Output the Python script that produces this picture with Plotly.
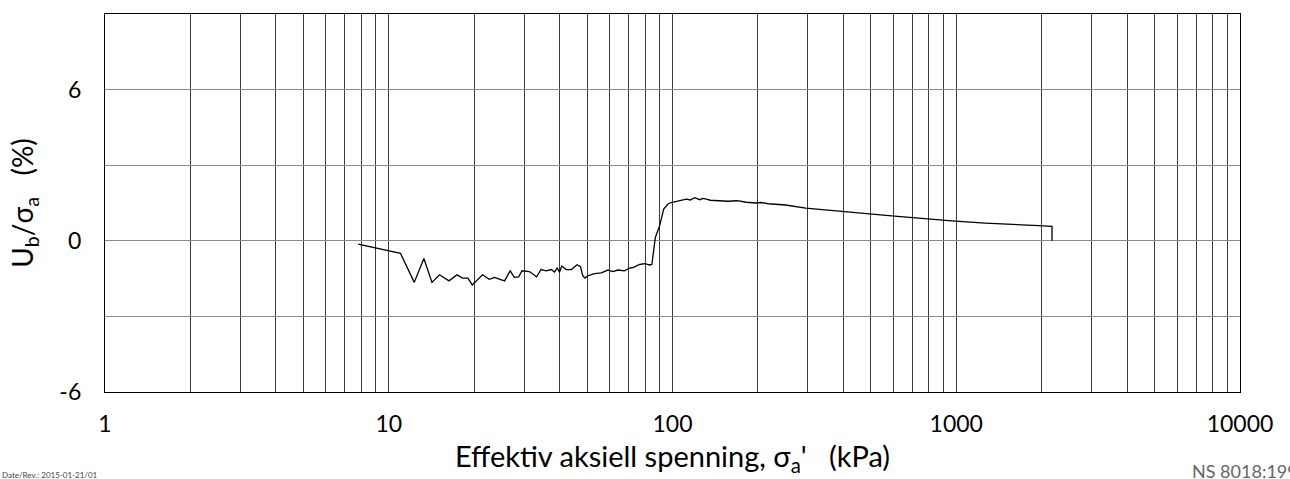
import plotly.graph_objects as go

# Effective axial stress (kPa) and pore-pressure ratio Ub/sigma_a (%)
sigma_a = [7.8, 11.0, 12.3, 13.3, 14.2, 15.1, 16.3, 17.4, 18.2, 19.0, 19.7,
           21.4, 22.6, 23.6, 24.5, 25.6, 26.8, 27.7, 28.7, 29.5, 31.3, 33.2,
           34.4, 35.9, 37.4, 38.4, 39.2, 40.0, 40.7, 42.2, 44.0, 46.1, 47.4,
           48.3, 49.2, 50.3, 53.1, 56.1, 59.2, 61.7, 64.2, 67.8, 70.6, 72.6,
           76.6, 79.8, 83.1, 84.6, 87.0, 90.1, 93.1, 96.4, 99.0, 104.5, 111.8,
           115.5, 119.8, 124.7, 128.0, 131.6, 136.0, 140.8, 148.0, 157.0,
           169.0, 182.0, 196.8, 205.0, 217.5, 250.0, 295.0, 394.0, 592.0,
           964.0, 1265.0, 1952.0, 2175.0, 2175.0]
ub_ratio = [-0.13, -0.50, -1.65, -0.70, -1.65, -1.35, -1.59, -1.35, -1.48,
            -1.48, -1.75, -1.35, -1.53, -1.45, -1.52, -1.59, -1.19, -1.45,
            -1.43, -1.19, -1.22, -1.43, -1.14, -1.19, -1.14, -1.24, -1.08,
            -1.24, -1.00, -1.14, -1.14, -0.95, -1.03, -1.39, -1.48, -1.39,
            -1.30, -1.27, -1.16, -1.22, -1.16, -1.19, -1.08, -1.06, -0.94,
            -0.91, -0.96, -0.94, 0.13, 0.60, 1.26, 1.46, 1.52, 1.59, 1.65,
            1.62, 1.71, 1.63, 1.68, 1.65, 1.61, 1.60, 1.58, 1.57, 1.59,
            1.53, 1.50, 1.52, 1.47, 1.42, 1.30, 1.16, 0.99, 0.79, 0.70,
            0.60, 0.57, 0.0]

# Log-axis gridlines at every 1..9 multiple; labels only on decades
x_mult = [m for d in range(4) for m in range(1, 10)] + [1]
x_tickvals = [m * 10 ** d for d in range(4) for m in range(1, 10)] + [10000]
x_ticktext = [str(v) if m == 1 else "" for v, m in zip(x_tickvals, x_mult)]
y_tickvals = [-6, -3, 0, 3, 6, 9]
y_ticktext = ["-6", "", "0", "", "6", ""]

FONT = "Lato"

fig = go.Figure()
fig.add_trace(go.Scatter(
    x=sigma_a, y=ub_ratio, mode="lines",
    line=dict(color="black", width=1.3),
    showlegend=False, hoverinfo="x+y",
))

fig.update_layout(
    width=1290, height=479,
    margin=dict(l=105, r=50, t=14, b=87),
    paper_bgcolor="white", plot_bgcolor="white",
    font=dict(family=FONT, size=22, color="black"),
    xaxis=dict(
        type="log", range=[0, 4],
        tickvals=x_tickvals, ticktext=x_ticktext,
        showgrid=True, gridcolor="#3c3c3c", gridwidth=1,
        showline=True, linecolor="black", linewidth=1.3, mirror=True,
        ticks="", ticklabelstandoff=11,
        tickfont=dict(size=23, family=FONT),
        title=dict(text="Effektiv aksiell spenning, σ<sub>a</sub>'&nbsp;&nbsp;&nbsp;(kPa)",
                   font=dict(size=29, family=FONT), standoff=10),
        zeroline=False,
    ),
    yaxis=dict(
        range=[-6, 9],
        tickvals=y_tickvals, ticktext=y_ticktext,
        showgrid=True, gridcolor="#8a8a8a", gridwidth=1,
        showline=True, linecolor="black", linewidth=1.3, mirror=True,
        ticks="", ticklabelstandoff=18,
        tickfont=dict(size=23, family=FONT),
        title=dict(text="U<sub>b</sub>/σ<sub>a</sub>&nbsp;&nbsp;&nbsp;(%)",
                   font=dict(size=28, family=FONT), standoff=17),
        zeroline=False,
    ),
    annotations=[
        dict(text="NS 8018:1993", xref="paper", yref="paper",
             x=(1190 - 105) / 1135, y=-0.175, xanchor="left", yanchor="top",
             showarrow=False, font=dict(size=18, family=FONT, color="#666666")),
        dict(text="Date/Rev.: 2015-01-21/01", xref="paper", yref="paper",
             x=-105 / 1135, y=-0.2, xanchor="left", yanchor="top",
             showarrow=False, font=dict(size=8, family=FONT, color="#444444")),
    ],
)

fig.write_html("out.html")
